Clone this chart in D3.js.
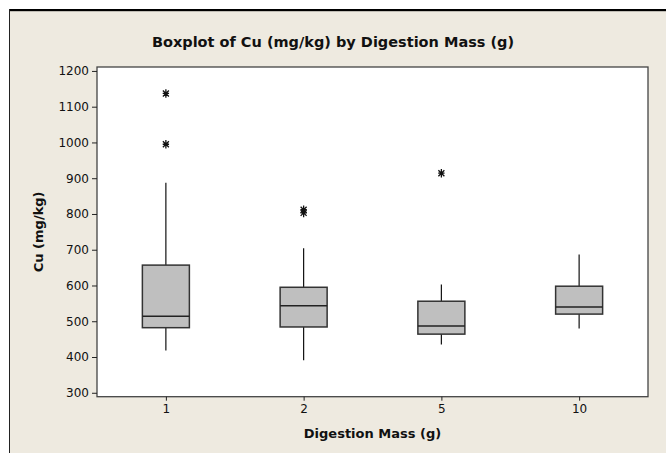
<!DOCTYPE html>
<html>
<head>
<meta charset="utf-8">
<script src="https://cdn.jsdelivr.net/npm/d3@7"></script>
<style>
  html, body { margin: 0; padding: 0; background: #ffffff; }
  svg { display: block; }
  text { font-family: Tahoma, "DejaVu Sans", "Liberation Sans", sans-serif; fill: #111; }
</style>
</head>
<body>
<script>
// Cu concentrations (mg/kg) summarised per digestion mass (g)
const categories = ["1", "2", "5", "10"];
const q1       = [482, 484, 464, 520];
const median   = [514, 543, 487, 540];
const q3       = [657, 595, 556, 598];
const whiskLo  = [418, 391, 435, 480];
const whiskHi  = [887, 704, 603, 687];
const outliers = [[1137, 995], [812, 803], [914], []];
const yTicks   = [300, 400, 500, 600, 700, 800, 900, 1000, 1100, 1200];

const W = 666, H = 453;
const plot = { left: 97, right: 648, top: 67, bottom: 396.7 };

const svg = d3.select("body").append("svg")
  .attr("width", W).attr("height", H);

// page frame: beige panel with dark top and left rules
svg.append("rect").attr("x", 9).attr("y", 10).attr("width", W - 9).attr("height", H - 10)
  .attr("fill", "#eeeae0");
svg.append("rect").attr("x", 9).attr("y", 9).attr("width", W - 9).attr("height", 2.2)
  .attr("fill", "#000");
svg.append("line").attr("x1", 9.5).attr("x2", 9.5).attr("y1", 9).attr("y2", H)
  .attr("stroke", "#222").attr("stroke-width", 1);

// data region
svg.append("rect")
  .attr("x", plot.left).attr("y", plot.top)
  .attr("width", plot.right - plot.left).attr("height", plot.bottom - plot.top)
  .attr("fill", "#fff").attr("stroke", "#444").attr("stroke-width", 1.3);

const x = d3.scalePoint().domain(categories)
  .range([plot.left, plot.right]).padding(0.5);
const y = d3.scaleLinear().domain([289, 1211]).range([plot.bottom, plot.top]);

// axes
const yAxis = svg.append("g").attr("transform", `translate(${plot.left},0)`)
  .call(d3.axisLeft(y).tickValues(yTicks).tickFormat(d3.format("d"))
    .tickSize(5).tickPadding(3));
const xAxis = svg.append("g").attr("transform", `translate(0,${plot.bottom})`)
  .call(d3.axisBottom(x).tickSize(4).tickPadding(4));
[yAxis, xAxis].forEach(g => {
  g.select(".domain").remove();
  g.selectAll(".tick line").attr("stroke", "#222");
  g.selectAll(".tick text").style("font-size", "12px").attr("fill", "#111")
    .style("font-family", "Tahoma, 'DejaVu Sans', 'Liberation Sans', sans-serif");
});

// titles
svg.append("text").attr("x", 333).attr("y", 47).attr("text-anchor", "middle")
  .style("font-size", "14.5px").style("font-weight", "bold")
  .text("Boxplot of Cu (mg/kg) by Digestion Mass (g)");
svg.append("text").attr("x", (plot.left + plot.right) / 2).attr("y", 438)
  .attr("text-anchor", "middle").style("font-size", "13px").style("font-weight", "bold")
  .text("Digestion Mass (g)");
svg.append("text")
  .attr("transform", `translate(43,${(plot.top + plot.bottom) / 2}) rotate(-90)`)
  .attr("text-anchor", "middle").style("font-size", "13px").style("font-weight", "bold")
  .text("Cu (mg/kg)");

// boxes
const boxW = 47;
const groups = svg.append("g").selectAll("g").data(categories).join("g");

groups.append("line")
  .attr("x1", d => x(d)).attr("x2", d => x(d))
  .attr("y1", (d, i) => y(q3[i])).attr("y2", (d, i) => y(whiskHi[i]))
  .attr("stroke", "#111").attr("stroke-width", 1.2);
groups.append("line")
  .attr("x1", d => x(d)).attr("x2", d => x(d))
  .attr("y1", (d, i) => y(q1[i])).attr("y2", (d, i) => y(whiskLo[i]))
  .attr("stroke", "#111").attr("stroke-width", 1.2);
groups.append("rect")
  .attr("x", d => x(d) - boxW / 2).attr("width", boxW)
  .attr("y", (d, i) => y(q3[i])).attr("height", (d, i) => y(q1[i]) - y(q3[i]))
  .attr("fill", "#bfbfbf").attr("stroke", "#333").attr("stroke-width", 1.5);
groups.append("line")
  .attr("x1", d => x(d) - boxW / 2).attr("x2", d => x(d) + boxW / 2)
  .attr("y1", (d, i) => y(median[i])).attr("y2", (d, i) => y(median[i]))
  .attr("stroke", "#222").attr("stroke-width", 1.5);

// outlier marker: vertical stroke crossed by two 45° diagonals
const starSymbol = {
  draw(ctx, size) {
    const r = Math.sqrt(size) / 2;
    const d = r * Math.SQRT1_2;
    ctx.moveTo(0, -r); ctx.lineTo(0, r);
    ctx.moveTo(-d, -d); ctx.lineTo(d, d);
    ctx.moveTo(-d, d); ctx.lineTo(d, -d);
    ctx.moveTo(-r * 0.75, 0); ctx.lineTo(r * 0.75, 0);
  }
};
const star = d3.symbol().type(starSymbol).size(72);
groups.each(function (d, i) {
  d3.select(this).selectAll("path.out").data(outliers[i]).join("path")
    .attr("class", "out")
    .attr("transform", v => `translate(${x(d)},${y(v)})`)
    .attr("d", star)
    .attr("fill", "none").attr("stroke", "#111").attr("stroke-width", 1.3);
});
</script>
</body>
</html>
